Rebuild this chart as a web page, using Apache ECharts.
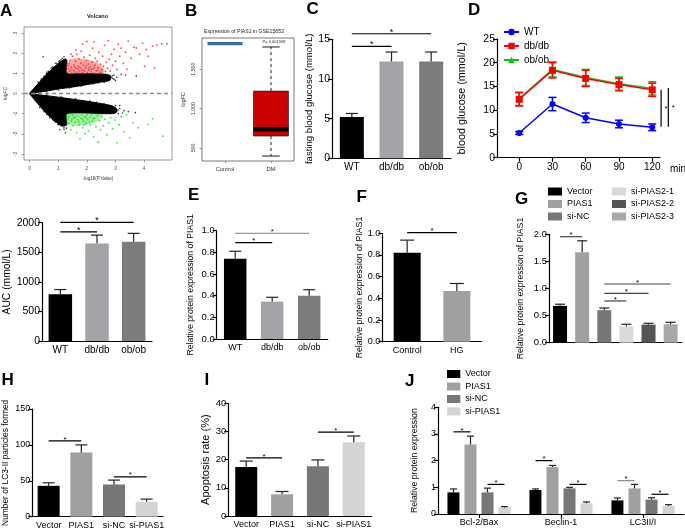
<!DOCTYPE html>
<html><head><meta charset="utf-8">
<script src="https://cdn.jsdelivr.net/npm/echarts@6/dist/echarts.min.js"></script>
<style>html,body{margin:0;padding:0;background:#fff}#c{width:685px;height:530px}</style>
</head><body><div id="c"></div>
<script>
const FF = 'Liberation Sans, Arial, Helvetica, sans-serif';

// ---------------- A : volcano ----------------
const A_xTicks = [0, 1, 2, 3, 4];
const A_yTicks = [-3, -2, -1, 0, 1, 2, 3];
const A_blackUpper = [[0,0],[0.1,0.18],[0.25,0.42],[0.45,0.75],[0.7,1.12],[0.9,1.38],[1.1,1.6],[1.25,1.72],[1.3,1.65],[1.3,1.0],[1.8,1.0],[2.3,0.98],[2.7,0.95],[2.85,0.85],[2.8,0.65],[2.5,0.57],[2.0,0.44],[1.5,0.32],[1.0,0.22],[0.5,0.1],[0.2,0.03]];
const A_blackLower = [[0,0],[0.2,-0.04],[0.5,-0.09],[1.0,-0.18],[1.5,-0.28],[2.0,-0.38],[2.5,-0.5],[2.9,-0.62],[3.05,-0.78],[3.0,-0.98],[2.5,-1.0],[1.3,-1.0],[1.3,-1.55],[1.15,-1.62],[0.95,-1.45],[0.7,-1.15],[0.45,-0.78],[0.25,-0.45],[0.1,-0.2]];
const A_redCore = [[1.3,1.0],[1.3,1.5],[1.6,1.75],[2.0,1.7],[2.4,1.5],[2.6,1.2],[2.6,1.0]];
const A_greenCore = [[1.3,-1.0],[1.3,-1.45],[1.6,-1.6],[2.0,-1.55],[2.4,-1.35],[2.55,-1.1],[2.5,-1.0]];
const A_redPoints = [[1.32,1.05],[1.35,1.22],[1.38,1.48],[1.40,1.10],[1.42,1.65],[1.45,1.30],[1.47,1.02],[1.50,1.85],[1.52,1.15],[1.55,1.42],[1.57,1.08],[1.60,1.60],[1.62,1.25],[1.65,1.95],[1.67,1.04],[1.70,1.35],[1.72,1.72],[1.75,1.12],[1.78,1.50],[1.80,2.10],[1.82,1.20],[1.85,1.02],[1.87,1.40],[1.90,1.80],[1.92,1.10],[1.95,1.28],[1.98,1.62],[2.00,2.58],[2.02,1.05],[2.05,1.45],[2.08,1.18],[2.10,1.90],[2.12,1.32],[2.15,1.08],[2.18,1.55],[2.20,2.25],[2.22,1.22],[2.25,1.02],[2.28,1.40],[2.30,1.75],[2.33,1.12],[2.36,1.60],[2.40,1.28],[2.42,2.05],[2.45,1.06],[2.48,1.45],[2.52,1.18],[2.55,1.85],[2.58,1.35],[2.62,2.40],[2.65,1.10],[2.68,1.55],[2.72,1.25],[2.75,2.62],[2.78,1.70],[2.82,1.12],[2.86,1.95],[2.90,1.40],[2.95,2.20],[3.00,1.60],[3.05,1.19],[3.10,2.45],[3.15,1.85],[3.20,2.25],[3.28,1.50],[3.35,2.05],[3.40,1.20],[3.45,2.60],[3.55,1.75],[3.65,2.30],[3.73,2.26],[3.85,1.95],[3.95,2.50],[4.02,1.35],[4.08,2.18],[4.15,1.85],[4.30,2.35],[4.37,1.27],[4.45,2.40],[4.62,2.47],[4.80,2.47],[1.34,1.38],[1.44,1.18],[1.58,1.32],[1.68,1.22],[1.76,1.30],[1.88,1.15],[1.97,1.38],[2.06,1.25],[2.16,1.20],[2.26,1.30],[2.38,1.15],[2.50,1.05],[1.45,1.95],[1.62,2.15],[1.85,2.45],[2.25,2.55]];
const A_greenPoints = [[1.32,-1.04],[1.35,-1.25],[1.38,-1.50],[1.41,-1.12],[1.44,-1.80],[1.46,-1.35],[1.49,-1.06],[1.52,-1.60],[1.55,-1.20],[1.58,-1.42],[1.61,-1.02],[1.64,-1.95],[1.67,-1.30],[1.70,-1.12],[1.73,-1.55],[1.76,-2.25],[1.79,-1.22],[1.82,-1.05],[1.85,-1.70],[1.88,-1.38],[1.91,-1.15],[1.94,-2.00],[1.97,-1.48],[2.00,-1.08],[2.03,-1.28],[2.06,-1.85],[2.10,-1.18],[2.13,-1.55],[2.17,-1.03],[2.20,-1.38],[2.24,-2.15],[2.28,-1.22],[2.32,-1.65],[2.36,-1.10],[2.40,-2.42],[2.44,-1.35],[2.48,-1.80],[2.53,-1.15],[2.58,-1.60],[2.63,-1.28],[2.70,-2.05],[2.76,-1.45],[2.83,-1.20],[2.90,-1.75],[2.98,-1.32],[3.05,-2.45],[3.12,-1.55],[3.20,-1.15],[3.30,-1.90],[3.38,-1.05],[3.50,-2.20],[3.62,-1.45],[3.80,-1.70],[4.14,-1.53],[4.30,-1.25],[4.66,-2.12],[1.36,-1.15],[1.48,-1.25],[1.60,-1.18],[1.72,-1.40],[1.84,-1.28],[1.96,-1.20],[2.08,-1.42],[2.22,-1.25],[1.53,-1.10],[1.90,-1.55]];
const A_blackPoints = [[0.47,1.82],[0.9,1.5],[1.05,1.62],[1.15,1.75],[1.2,1.55],[0.75,1.28],[0.6,1.05],[2.9,0.88],[3.05,0.8],[3.35,0.92],[3.73,0.86],[2.95,0.7],[3.2,0.95],[1.1,-1.6],[1.0,-1.52],[1.2,-1.78],[1.05,-1.8],[0.85,-1.35],[0.7,-1.2],[1.25,-1.95],[3.1,-0.82],[3.25,-0.97],[3.45,-0.9],[3.7,-0.95],[3.15,-0.6],[2.95,-0.95],
  [0.3,0.55],[0.5,0.85],[0.65,1.1],[0.8,1.32],[0.95,1.5],[1.1,1.68],[1.2,1.82],[0.4,0.72],[0.58,0.98],[1.02,1.58],
  [0.6,0.08],[1.0,0.17],[1.4,0.27],[1.8,0.36],[2.2,0.47],[2.6,0.55],[2.9,0.75],[3.0,0.65],[2.95,0.92],[2.4,0.52],
  [0.6,-0.07],[1.1,-0.16],[1.6,-0.26],[2.1,-0.36],[2.6,-0.5],[3.0,-0.6],[2.35,-0.44],
  [0.35,-0.7],[0.6,-1.05],[0.8,-1.3],[1.0,-1.55],[1.2,-1.7],[1.28,-1.72],[0.5,-0.9],[0.9,-1.42],
  [3.15,-0.75],[3.1,-1.0],[3.3,-0.85],[3.05,-0.9]];

// ---------------- B : boxplot ----------------
const B_categories = ['Control', 'DM'];
const B_stats = [[1825,1825,1825,1825,1825],[398,652,737,1222,1782]]; // min,Q1,median,Q3,max
const B_yTicks = [500, 1000, 1500];
const B_pText = 'P= 0.001598';

// ---------------- C ----------------
const C_categories = ['WT', 'db/db', 'ob/ob'];
const C_values = [5.2, 12.2, 12.2];
const C_errors = [0.45, 1.2, 1.2];
const C_sig = [[0,1,14.1],[0,2,15.7]];

// ---------------- D ----------------
const D_times = [0, 30, 60, 90, 120];
const D_WT = [5.2, 11.3, 8.4, 7.1, 6.4];
const D_WT_err = [0.3, 1.4, 1.0, 0.8, 0.7];
const D_db = [12.3, 18.4, 16.7, 15.4, 14.3];
const D_db_err = [1.4, 1.6, 1.7, 1.3, 1.4];
const D_ob = [12.4, 18.6, 16.9, 15.6, 14.6];
const D_ob_err = [1.4, 1.6, 1.7, 1.4, 1.4];
const D_sig = [[128, 14.3, 6.5],[134.5, 14.7, 6.5]];

// ---------------- AUC ----------------
const AUC_categories = ['WT', 'db/db', 'ob/ob'];
const AUC_values = [790, 1650, 1680];
const AUC_errors = [80, 140, 140];
const AUC_sig = [[0,1,1846],[0,2,2005]];

// ---------------- E ----------------
const E_categories = ['WT', 'db/db', 'ob/ob'];
const E_values = [0.74, 0.345, 0.40];
const E_errors = [0.07, 0.04, 0.055];
const E_sig = [[0,1,0.889],[0,2,0.976]];

// ---------------- F ----------------
const F_categories = ['Control', 'HG'];
const F_values = [0.82, 0.467];
const F_errors = [0.117, 0.07];
const F_sig = [[0,1,1.006]];

// ---------------- G ----------------
const G_categories = ['Vector','PIAS1','si-NC','si-PIAS2-1','si-PIAS2-2','si-PIAS2-3'];
const G_values = [0.68, 1.67, 0.60, 0.30, 0.333, 0.34];
const G_errors = [0.03, 0.21, 0.04, 0.04, 0.025, 0.036];
const G_sig = [[0,1,1.956],[2,3,0.77],[2,4,0.91],[2,5,1.083]];

// ---------------- H ----------------
const H_categories = ['Vector','PIAS1','si-NC','si-PIAS1'];
const H_values = [43, 89.4, 44.9, 20.8];
const H_errors = [4.2, 10.6, 6.1, 3.7];
const H_sig = [[0,1,105.6],[2,3,55.6]];

// ---------------- I ----------------
const I_categories = ['Vector','PIAS1','si-NC','si-PIAS1'];
const I_values = [17.4, 7.7, 17.7, 26.2];
const I_errors = [2.1, 1.0, 2.2, 2.2];
const I_sig = [[0,1,20.6],[2,3,29.8]];

// ---------------- J ----------------
const J_categories = ['Bcl-2/Bax','Beclin-1','LC3II/I'];
const J_groups = ['Vector','PIAS1','si-NC','si-PIAS1'];
const J_vector = [0.81, 0.90, 0.51];
const J_pias1 = [2.61, 1.76, 0.96];
const J_sinc = [0.81, 0.96, 0.54];
const J_sipias1 = [0.24, 0.40, 0.30];
const J_vector_err = [0.13, 0.04, 0.09];
const J_pias1_err = [0.31, 0.06, 0.15];
const J_sinc_err = [0.16, 0.04, 0.07];
const J_sipias1_err = [0.035, 0.05, 0.05];
const J_sig = [[0,0,1,3.08],[0,2,3,1.11],[1,0,1,2.0],[1,2,3,1.11],[2,0,1,1.25],[2,2,3,0.74]];

// ================= build =================
const grids = [], xAxes = [], yAxes = [], series = [], legends = [], graphics = [];

function addGrid(l, t, w, h, extra) {
  grids.push(Object.assign({left:l, top:t, width:w, height:h, outerBoundsMode:'none', containLabel:false}, extra || {}));
  return grids.length - 1;
}
function catAxis(gi, cats, fs, ticks) {
  return {type:'category', gridIndex:gi, data:cats,
    axisLine:{show:true, onZero:false, lineStyle:{color:'#000', width:1.2}},
    axisTick:{show:!!ticks, alignWithLabel:true, length:4, lineStyle:{color:'#000', width:1.2}},
    axisLabel:{color:'#000', fontSize:fs, fontFamily:FF, margin:4, interval:0},
    splitLine:{show:false}};
}
function valAxis(gi, max, interval, name, gap, nameFs, tickFs, dec) {
  return {type:'value', gridIndex:gi, min:0, max:max, interval:interval,
    axisLine:{show:true, onZero:false, lineStyle:{color:'#000', width:1.2}},
    axisTick:{show:true, length:4, lineStyle:{color:'#000', width:1.2}},
    axisLabel:{color:'#000', fontSize:tickFs, fontFamily:FF, margin:2,
      formatter: v => dec ? v.toFixed(dec) : String(v)},
    splitLine:{show:false},
    name:name, nameLocation:'middle', nameGap:gap,
    nameTextStyle:{color:'#000', fontSize:nameFs, fontFamily:FF}};
}
function barSeries(gi, values, colors, bw, name) {
  series.push({type:'bar', name:name, xAxisIndex:gi, yAxisIndex:gi, barWidth:bw, silent:true,
    data: values.map((v,i) => ({value:v, itemStyle:{color:colors[i]}}))});
}
function barErrors(gi, values, errors, capW, offsetFn) {
  series.push({type:'custom', xAxisIndex:gi, yAxisIndex:gi, silent:true, z:3,
    encode:{x:0, y:2},
    data: values.map((v,i) => [i, v, v + errors[i]]),
    renderItem: (params, api) => {
      const x = api.value(0), v = api.value(1), h = api.value(2);
      const dx = offsetFn ? offsetFn(params) : 0;
      const p0 = api.coord([x, v]), p1 = api.coord([x, h]);
      const st = {stroke:'#222', lineWidth:1.2};
      return {type:'group', children:[
        {type:'line', shape:{x1:p0[0]+dx, y1:p0[1], x2:p1[0]+dx, y2:p1[1]}, style:st},
        {type:'line', shape:{x1:p1[0]+dx-capW/2, y1:p1[1], x2:p1[0]+dx+capW/2, y2:p1[1]}, style:st}]};
    }});
}
function sigLines(gi, sig, colors, starFs) {
  series.push({type:'custom', xAxisIndex:gi, yAxisIndex:gi, silent:true, z:4,
    encode:{x:0, y:2}, data: sig,
    renderItem: (params, api) => {
      const a = api.value(0), b = api.value(1), l = api.value(2);
      const p0 = api.coord([a, l]), p1 = api.coord([b, l]);
      const c = colors ? colors[params.dataIndex] : '#000';
      return {type:'group', children:[
        {type:'line', shape:{x1:p0[0], y1:p0[1], x2:p1[0], y2:p1[1]}, style:{stroke:c, lineWidth:1.2}},
        {type:'text', style:{text:'*', x:(p0[0]+p1[0])/2, y:p0[1]-1.5, align:'center', verticalAlign:'middle',
          font: starFs + 'px ' + FF, fill:'#000'}}]};
    }});
}
function polySeries(gi, pts, fill, stroke) {
  series.push({type:'custom', xAxisIndex:gi, yAxisIndex:gi, silent:true, encode:{x:0, y:1}, data: pts,
    renderItem: (params, api) => params.dataIndex === 0 ?
      {type:'polygon', shape:{points: pts.map(p => api.coord(p)), smooth:0.2},
       style:{fill:fill, stroke: stroke || null, lineWidth: stroke ? 1 : 0}} : null});
}
function scatterSeries(gi, pts, color, size, extra) {
  series.push(Object.assign({type:'scatter', xAxisIndex:gi, yAxisIndex:gi, silent:true,
    symbolSize:size, itemStyle:{color:color}, data:pts}, extra || {}));
}

// ---- A ----
const gA = addGrid(24, 27, 148, 133, {show:true, borderColor:'#808080', borderWidth:0.8});
xAxes.push({type:'value', gridIndex:gA, min:-0.2, max:4.98,
  axisLine:{show:false, onZero:false}, splitLine:{show:false},
  axisTick:{show:true, customValues:A_xTicks, length:2.5, lineStyle:{color:'#666', width:0.6}},
  axisLabel:{customValues:A_xTicks, fontSize:4.5, color:'#444', margin:6, fontFamily:FF},
  name:'-log10(P.Value)', nameLocation:'middle', nameGap:16, nameTextStyle:{fontSize:4.5, color:'#333', fontFamily:FF}});
yAxes.push({type:'value', gridIndex:gA, min:-3.3, max:3.3,
  axisLine:{show:false, onZero:false}, splitLine:{show:false},
  axisTick:{show:true, customValues:A_yTicks, length:2.5, lineStyle:{color:'#666', width:0.6}},
  axisLabel:{customValues:A_yTicks, fontSize:4.5, color:'#444', margin:6, rotate:90, fontFamily:FF},
  name:'logFC', nameLocation:'middle', nameGap:16, nameTextStyle:{fontSize:5, color:'#333', fontFamily:FF}});
polySeries(gA, A_blackUpper, '#000', '#000');
polySeries(gA, A_blackLower, '#000', '#000');
polySeries(gA, A_redCore, 'rgba(255,40,40,0.42)');
polySeries(gA, A_greenCore, 'rgba(40,220,40,0.42)');
scatterSeries(gA, A_blackPoints, '#000', 1.6, {markLine:{silent:true, symbol:'none', label:{show:false},
  lineStyle:{type:[4,3], color:'#8a8a8a', width:1.4}, data:[{yAxis:0}]}});
scatterSeries(gA, A_redPoints, '#ff2b2b', 1.9);
scatterSeries(gA, A_greenPoints, '#22dd22', 1.9);

// ---- B ----
const B_styles = [{fill:'#3a6d9c', median:'#3a6d9c', mw:3.3}, {fill:'#cc0000', median:'#000', mw:4.5}];
const gB = addGrid(202, 38, 92, 123, {show:true, borderColor:'#555', borderWidth:0.8});
xAxes.push({type:'category', gridIndex:gB, data:B_categories,
  axisLine:{show:false, onZero:false},
  axisTick:{show:true, alignWithLabel:true, length:2, lineStyle:{color:'#555', width:0.6}},
  axisLabel:{fontSize:5.8, color:'#333', margin:5, fontFamily:FF}});
yAxes.push({type:'value', gridIndex:gB, min:335, max:1896,
  axisLine:{show:false, onZero:false}, splitLine:{show:false},
  axisTick:{show:true, customValues:B_yTicks, length:2.5, lineStyle:{color:'#555', width:0.6}},
  axisLabel:{customValues:B_yTicks, fontSize:5.2, color:'#333', margin:6, rotate:90, fontFamily:FF},
  name:'logFC', nameLocation:'middle', nameGap:16, nameTextStyle:{fontSize:5.5, color:'#333', fontFamily:FF}});
series.push({type:'custom', xAxisIndex:gB, yAxisIndex:gB, silent:true, encode:{x:0, y:[1,2,3,4,5]},
  data: B_stats.map((s,i) => [i].concat(s)),
  renderItem: (params, api) => {
    const i = api.value(0);
    const mn = api.value(1), q1 = api.value(2), md = api.value(3), q3 = api.value(4), mx = api.value(5);
    const bw = api.size([1, 0])[0] * 0.76;
    const cx = api.coord([i, md])[0];
    const y = v => api.coord([i, v])[1];
    const st = B_styles[params.dataIndex];
    const wst = {stroke:'#000', lineWidth:0.9, lineDash:[3,3]};
    const cst = {stroke:'#000', lineWidth:0.9};
    const h = y(q1) - y(q3);
    return {type:'group', children:[
      {type:'line', shape:{x1:cx, y1:y(q3), x2:cx, y2:y(mx)}, style:wst},
      {type:'line', shape:{x1:cx, y1:y(q1), x2:cx, y2:y(mn)}, style:wst},
      {type:'line', shape:{x1:cx-bw/4, y1:y(mx), x2:cx+bw/4, y2:y(mx)}, style:cst},
      {type:'line', shape:{x1:cx-bw/4, y1:y(mn), x2:cx+bw/4, y2:y(mn)}, style:cst},
      {type:'rect', shape:{x:cx-bw/2, y:y(q3), width:bw, height:h}, style:{fill:st.fill, stroke: h > 0 ? '#222' : null, lineWidth:0.7}},
      {type:'line', shape:{x1:cx-bw/2, y1:y(md), x2:cx+bw/2, y2:y(md)}, style:{stroke:st.median, lineWidth:st.mw}}
    ]};
  }});

// ---- C ----
const C_colors = ['#000000', '#a3a3a8', '#7c7c7c'];
const gC = addGrid(332, 39.3, 119, 119);
xAxes.push(catAxis(gC, C_categories, 10, false));
yAxes.push(valAxis(gC, 15, 5, 'fasting blood glucose (mmol/L)', 15, 9.6, 10.5, 0));
barSeries(gC, C_values, C_colors, 24, 'C');
barErrors(gC, C_values, C_errors, 12);
sigLines(gC, C_sig, null, 9);

// ---- D ----
const gD = addGrid(497, 39, 163, 118.7);
xAxes.push({type:'value', gridIndex:gD, min:-20, max:127,
  axisLine:{show:true, onZero:false, lineStyle:{color:'#000', width:1.2}},
  axisTick:{show:true, customValues:D_times, length:4, lineStyle:{color:'#000', width:1.2}},
  axisLabel:{customValues:D_times, color:'#000', fontSize:10, fontFamily:FF, margin:5},
  splitLine:{show:false},
  name:'min', nameLocation:'end', nameGap:10,
  nameTextStyle:{color:'#000', fontSize:10, fontFamily:FF, verticalAlign:'top', padding:[7,0,0,0]}});
yAxes.push(valAxis(gD, 25, 5, 'blood glucose (mmol/L)', 29, 10.8, 10.5, 0));
const D_lines = [
  {name:'WT', vals:D_WT, errs:D_WT_err, color:'#0000ff', symbol:'circle', size:6},
  {name:'ob/ob', vals:D_ob, errs:D_ob_err, color:'#15c015', symbol:'triangle', size:7},
  {name:'db/db', vals:D_db, errs:D_db_err, color:'#ff0000', symbol:'rect', size:7}
];
D_lines.forEach(s => {
  series.push({type:'custom', xAxisIndex:gD, yAxisIndex:gD, silent:true, z:1, encode:{x:0, y:[1,2]},
    data: s.vals.map((v,i) => [D_times[i], v - s.errs[i], v + s.errs[i]]),
    renderItem: (params, api) => {
      const t = api.value(0);
      const p0 = api.coord([t, api.value(1)]), p1 = api.coord([t, api.value(2)]);
      const st = {stroke:s.color, lineWidth:1.5};
      return {type:'group', children:[
        {type:'line', shape:{x1:p0[0], y1:p0[1], x2:p1[0], y2:p1[1]}, style:st},
        {type:'line', shape:{x1:p0[0]-4, y1:p0[1], x2:p0[0]+4, y2:p0[1]}, style:st},
        {type:'line', shape:{x1:p1[0]-4, y1:p1[1], x2:p1[0]+4, y2:p1[1]}, style:st}]};
    }});
});
D_lines.forEach(s => {
  series.push({type:'line', name:s.name, xAxisIndex:gD, yAxisIndex:gD, z:2, silent:true,
    symbol:s.symbol, symbolSize:s.size, showAllSymbol:true,
    lineStyle:{color:s.color, width:1.5}, itemStyle:{color:s.color},
    data: s.vals.map((v,i) => [D_times[i], v])});
});
series.push({type:'custom', xAxisIndex:gD, yAxisIndex:gD, silent:true, encode:{x:0, y:[1,2]}, data:D_sig,
  renderItem: (params, api) => {
    const x = api.value(0);
    const p0 = api.coord([x, api.value(1)]), p1 = api.coord([x, api.value(2)]);
    return {type:'group', children:[
      {type:'line', shape:{x1:p0[0], y1:p0[1], x2:p1[0], y2:p1[1]}, style:{stroke:'#000', lineWidth:1.2}},
      {type:'text', style:{text:'*', x:p0[0]+5, y:(p0[1]+p1[1])/2, align:'center', verticalAlign:'middle', font:'8px '+FF, fill:'#000'}}]};
  }});
legends.push({data:['WT','db/db','ob/ob'], left:503, top:27, orient:'vertical', padding:0,
  itemWidth:15, itemHeight:8, itemGap:4, selectedMode:false,
  textStyle:{fontSize:10, color:'#000', fontFamily:FF}});

// ---- AUC ----
const gAUC = addGrid(42, 222.7, 110, 118.3);
xAxes.push(catAxis(gAUC, AUC_categories, 10, false));
yAxes.push(valAxis(gAUC, 2000, 500, 'AUC (mmol/L)', 30, 10.3, 10.5, 0));
barSeries(gAUC, AUC_values, C_colors, 23.5, 'AUC');
barErrors(gAUC, AUC_values, AUC_errors, 12);
sigLines(gAUC, AUC_sig, null, 9);

// ---- E ----
const gE = addGrid(216.7, 230.7, 111, 108.3);
xAxes.push(catAxis(gE, E_categories, 9, false));
yAxes.push(valAxis(gE, 1.0, 0.2, 'Relative protein expression of PIAS1', 21.5, 8.7, 9.5, 1));
barSeries(gE, E_values, C_colors, 22.5, 'E');
barErrors(gE, E_values, E_errors, 12);
sigLines(gE, E_sig, ['#000', '#999'], 8);

// ---- F ----
const gF = addGrid(382.3, 233.3, 99.4, 108.4);
xAxes.push(catAxis(gF, F_categories, 9, false));
yAxes.push(valAxis(gF, 1.0, 0.2, 'Relative protein expression of PIAS1', 16, 8.7, 9, 1));
barSeries(gF, F_values, ['#000000', '#a0a0a0'], 27, 'F');
barErrors(gF, F_values, F_errors, 14);
sigLines(gF, F_sig, null, 8);

// ---- G ----
const G_colors = ['#000000', '#a0a0a0', '#777777', '#d9d9d9', '#555555', '#a8a8a8'];
const gG = addGrid(549, 234.3, 132.7, 108.4);
const gAx = catAxis(gG, G_categories, 9, false);
gAx.axisLabel.show = false;
xAxes.push(gAx);
yAxes.push(valAxis(gG, 2.0, 0.5, 'Relative protein expression of PIAS1', 24, 8.7, 9.5, 1));
G_categories.forEach((c, i) => {
  series.push({type:'bar', name:'G|' + c, xAxisIndex:gG, yAxisIndex:gG, barWidth:14, barGap:'-100%', silent:true,
    itemStyle:{color:G_colors[i]}, data: G_values.map((v,j) => j === i ? v : '-')});
});
barErrors(gG, G_values, G_errors, 10);
sigLines(gG, G_sig, ['#444','#444','#444','#444'], 8);
const legStyle = {orient:'vertical', padding:0, itemWidth:14, itemHeight:8, itemGap:3.5, icon:'rect', selectedMode:false,
  textStyle:{fontSize:9, color:'#000', fontFamily:FF}, formatter: n => n.split('|')[1]};
legends.push(Object.assign({data: G_categories.slice(0,3).map(c => 'G|' + c), left:548, top:187}, legStyle));
legends.push(Object.assign({data: G_categories.slice(3).map(c => 'G|' + c), left:612, top:187}, legStyle));

// ---- H ----
const H_colors = ['#000000', '#a0a0a0', '#777777', '#d4d4d4'];
const gH = addGrid(32.3, 409, 130.7, 107.7);
xAxes.push(catAxis(gH, H_categories, 9, false));
yAxes.push(valAxis(gH, 150, 50, 'Number of LC3-II particles formed', 23, 8.4, 9, 0));
barSeries(gH, H_values, H_colors, 22, 'H');
barErrors(gH, H_values, H_errors, 12);
sigLines(gH, H_sig, null, 8);

// ---- I ----
const gI = addGrid(228.3, 403.3, 143.4, 112.7);
xAxes.push(catAxis(gI, I_categories, 9, false));
yAxes.push(valAxis(gI, 40, 10, 'Apoptosis rate (%)', 15, 11, 9.5, 0));
barSeries(gI, I_values, H_colors, 22, 'I');
barErrors(gI, I_values, I_errors, 13);
sigLines(gI, I_sig, null, 8);

// ---- J ----
const gJ = addGrid(438, 407.3, 246, 106.7);
xAxes.push(catAxis(gJ, J_categories, 9, true));
yAxes.push(valAxis(gJ, 4, 1, 'Relative protein expression', 19, 8.7, 9, 0));
const J_vals = [J_vector, J_pias1, J_sinc, J_sipias1];
const J_errs = [J_vector_err, J_pias1_err, J_sinc_err, J_sipias1_err];
const J_pitch = 17;
J_groups.forEach((g, k) => {
  series.push({type:'bar', name:'J|' + g, xAxisIndex:gJ, yAxisIndex:gJ, barWidth:12, barGap:'42%', silent:true,
    itemStyle:{color:H_colors[k]}, data: J_vals[k]});
});
J_groups.forEach((g, k) => {
  barErrors(gJ, J_vals[k], J_errs[k], 7, () => (k - 1.5) * J_pitch);
});
series.push({type:'custom', xAxisIndex:gJ, yAxisIndex:gJ, silent:true, z:4, encode:{x:0, y:3}, data:J_sig,
  renderItem: (params, api) => {
    const c = api.value(0), s1 = api.value(1), s2 = api.value(2), l = api.value(3);
    const p = api.coord([c, l]);
    const x1 = p[0] + (s1 - 1.5) * J_pitch, x2 = p[0] + (s2 - 1.5) * J_pitch;
    const col = params.dataIndex === 4 ? '#888' : '#000';
    return {type:'group', children:[
      {type:'line', shape:{x1:x1, y1:p[1], x2:x2, y2:p[1]}, style:{stroke:col, lineWidth:1.2}},
      {type:'text', style:{text:'*', x:(x1+x2)/2, y:p[1]-1.5, align:'center', verticalAlign:'middle', font:'8px '+FF, fill:'#000'}}]};
  }});
legends.push(Object.assign({}, legStyle, {data: J_groups.map(g => 'J|' + g), left:447, top:369.5, itemWidth:13.3}));

// ---- texts ----
const letters = [['A',0,11.7],['B',185,11.7],['C',306.5,9.3],['D',468,10.8],['E',188,195],['F',356.5,197.5],
  ['G',515,199],['H',1.5,380],['I',204.5,380],['J',405,381]];
letters.forEach(l => graphics.push({type:'text', x:l[1], y:l[2], silent:true,
  style:{text:l[0], font:'bold 17px ' + FF, fill:'#000', align:'left', verticalAlign:'middle'}}));
graphics.push({type:'text', x:97.5, y:16, silent:true, style:{text:'Volcano', font:'bold 5.5px ' + FF, fill:'#222', align:'center', verticalAlign:'middle'}});
graphics.push({type:'text', x:244, y:31.7, silent:true, style:{text:'Expression of PIAS1 in GSE15653', font:'5.2px ' + FF, fill:'#222', align:'center', verticalAlign:'middle'}});
graphics.push({type:'text', x:274, y:42, silent:true, style:{text:B_pText, font:'4px ' + FF, fill:'#222', align:'center', verticalAlign:'middle'}});

const chart = echarts.init(document.getElementById('c'), null, {renderer:'canvas'});
chart.setOption({
  animation:false, backgroundColor:'#fff',
  textStyle:{fontFamily:FF},
  grid:grids, xAxis:xAxes, yAxis:yAxes, series:series, legend:legends, graphic:graphics,
  tooltip:{show:false}
});
</script></body></html>
